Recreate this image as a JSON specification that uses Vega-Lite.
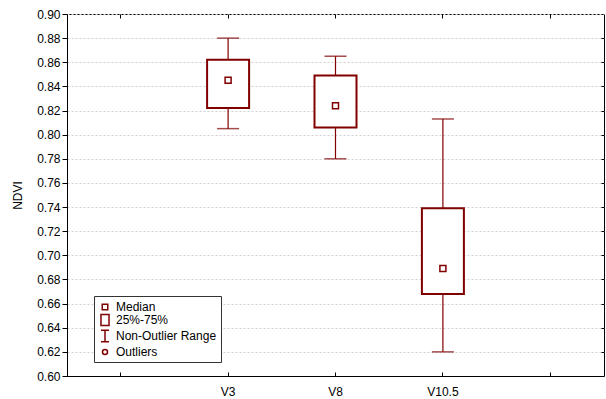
{
  "$schema": "https://vega.github.io/schema/vega-lite/v6.json",
  "width": 537,
  "height": 362,
  "autosize": "none",
  "padding": {"left": 67, "top": 14, "right": 2, "bottom": 23},
  "background": "white",
  "config": {
    "font": "Liberation Sans",
    "view": {"stroke": "#000", "strokeWidth": 1},
    "axis": {"labelFont": "Liberation Sans", "labelFontSize": 12, "labelColor": "#000", "titleFont": "Liberation Sans", "titleFontSize": 12, "titleFontWeight": "normal", "titleColor": "#000", "domainColor": "#000", "tickColor": "#000"},
    "legend": {"labelFont": "Liberation Sans", "labelFontSize": 12, "labelColor": "#000"}
  },
  "data": {"values": [
    {"cat": "V3", "min": 0.805, "q1": 0.822, "median": 0.845, "q3": 0.862, "max": 0.880},
    {"cat": "V8", "min": 0.780, "q1": 0.806, "median": 0.824, "q3": 0.849, "max": 0.865},
    {"cat": "V10.5", "min": 0.620, "q1": 0.668, "median": 0.689, "q3": 0.739, "max": 0.813}
  ]},
  "layer": [
    {
      "mark": {"type": "rule", "color": "#800000", "strokeWidth": 1.2},
      "encoding": {
        "x": {"field": "cat", "type": "nominal", "scale": {"domain": [" ", "V3", "V8", "V10.5", "  "], "paddingInner": 0, "paddingOuter": 0},
              "axis": {"orient": "bottom", "title": null, "labelAngle": 0, "tickSize": -4, "labelPadding": 14, "grid": false, "domainColor": "#000"}},
        "y": {"field": "min", "type": "quantitative", "scale": {"domain": [0.6, 0.9], "nice": false, "zero": false},
              "axis": {"orient": "left", "title": "NDVI", "values": [0.6, 0.62, 0.64, 0.66, 0.68, 0.7, 0.72, 0.74, 0.76, 0.78, 0.8, 0.82, 0.84, 0.86, 0.88, 0.9], "format": ".2f", "tickSize": 5, "labelPadding": 2, "grid": true, "gridDash": [2, 2], "gridColor": "#d0d0d0", "titlePadding": 12}},
        "y2": {"field": "max"}
      }
    },
    {
      "mark": {"type": "bar", "fill": "white", "stroke": "#800000", "strokeWidth": 2, "width": 42},
      "encoding": {
        "x": {"field": "cat", "type": "nominal", "scale": {"domain": [" ", "V3", "V8", "V10.5", "  "], "paddingInner": 0, "paddingOuter": 0},
              "axis": {"orient": "top", "title": null, "labels": false, "tickSize": -4, "domain": false, "grid": false}},
        "y": {"field": "q1", "type": "quantitative", "scale": {"domain": [0.6, 0.9], "nice": false, "zero": false},
              "axis": {"orient": "right", "title": null, "labels": false, "values": [0.62, 0.64, 0.66, 0.68, 0.7, 0.72, 0.74, 0.76, 0.78, 0.8, 0.82, 0.84, 0.86, 0.88], "tickSize": -3, "domain": false, "grid": false}},
        "y2": {"field": "q3"}
      }
    },
    {
      "mark": {"type": "tick", "color": "#800000", "size": 22, "thickness": 1.5},
      "encoding": {
        "x": {"field": "cat", "type": "nominal", "axis": null},
        "y": {"field": "min", "type": "quantitative", "axis": null}
      }
    },
    {
      "mark": {"type": "tick", "color": "#800000", "size": 22, "thickness": 1.5},
      "encoding": {
        "x": {"field": "cat", "type": "nominal", "axis": null},
        "y": {"field": "max", "type": "quantitative", "axis": null}
      }
    },
    {
      "mark": {"type": "point", "filled": false, "color": "#800000", "strokeWidth": 1.5, "size": 170, "opacity": 1},
      "encoding": {
        "x": {"field": "cat", "type": "nominal", "axis": null},
        "y": {"field": "median", "type": "quantitative", "axis": null},
        "shape": {"datum": "Median",
          "scale": {"domain": ["Median", "25%-75%", "Non-Outlier Range", "Outliers"],
                    "range": ["M-0.46,-0.46H0.46V0.46H-0.46Z", "M-0.67,-0.92H0.67V0.92H-0.67Z", "M-0.67,-0.95H0.67M0,-0.95V0.95M-0.67,0.95H0.67", "M0.42,0A0.42,0.42,0,1,1,-0.42,0A0.42,0.42,0,1,1,0.42,0Z"]},
          "legend": {"orient": "none", "legendX": 27, "legendY": 282, "title": null, "symbolSize": 144, "symbolStrokeColor": "#800000", "symbolFillColor": "transparent", "symbolStrokeWidth": 1.5, "symbolOpacity": 1, "rowPadding": -2, "padding": 4, "labelOffset": 4, "strokeColor": "#333", "fillColor": "#fff",
                     "encode": {"symbols": {"update": {"strokeWidth": {"signal": "datum.value === '25%-75%' ? 2.2 : 1.5"}}}}}
        }
      }
    }
  ],
  "resolve": {"axis": {"x": "independent", "y": "independent"}}
}
